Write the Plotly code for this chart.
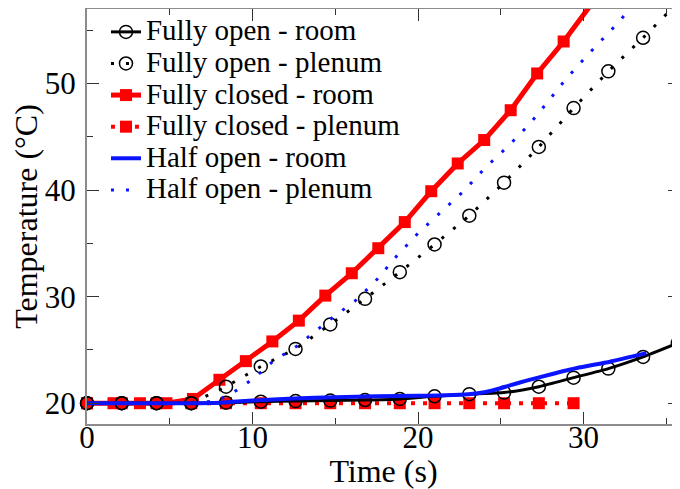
import plotly.graph_objects as go

# ---- data ----
t_open = [0, 2.1, 4.2, 6.3, 8.4, 10.5, 12.6, 14.7, 16.8, 18.9, 21.0, 23.1,
          25.2, 27.3, 29.4, 31.5, 33.6, 35.7]
open_room = [20, 20, 20, 20, 20.05, 20.15, 20.2, 20.25, 20.3, 20.4, 20.65, 20.85,
             21.0, 21.55, 22.4, 23.25, 24.35, 25.65]
t_open_plenum = [0, 2.1, 4.2, 6.3, 8.4, 10.5, 12.6, 14.7, 16.8, 18.9, 21.0, 23.1,
                 25.2, 27.3, 29.4, 31.5, 33.6, 35.7]
open_plenum = [20, 20, 20, 20, 21.55, 23.45, 25.1, 27.4, 29.8, 32.3, 34.9, 37.6,
               40.7, 44.05, 47.7, 51.15, 54.3, 57.6]

t_closed_room = [0, 1.6, 3.2, 4.8, 6.4, 8.0, 9.6, 11.2, 12.8, 14.4, 16.0, 17.6,
                 19.2, 20.8, 22.4, 24.0, 25.6, 27.2, 28.8, 30.4]
closed_room = [20, 20, 20, 20, 20.4, 22.2, 23.95, 25.8, 27.75, 30.1, 32.2, 34.55,
               37.0, 39.9, 42.5, 44.7, 47.5, 50.95, 53.95, 57.3]
t_closed_plenum = [0, 2.1, 4.2, 6.3, 8.4, 10.5, 12.6, 14.7, 16.8, 18.9, 21.0,
                   23.1, 25.2, 27.3, 29.4]
closed_plenum = [20, 20, 20, 20, 20, 20, 20, 20, 20, 20, 20, 20, 20, 20, 20]

t_half_room = [0, 6.0, 8.0, 10.0, 12.5, 15.0, 17.5, 20.0, 22.5, 23.5, 24.5, 25.5,
               26.5, 28.0, 29.6, 31.6, 33.8]
half_room = [20, 20, 20.05, 20.25, 20.45, 20.55, 20.65, 20.7, 20.8, 20.92, 21.2,
             21.65, 22.1, 22.7, 23.3, 23.9, 24.7]
t_half_plenum = [0, 6.3, 7.75, 8.45, 9.14, 9.86, 10.57, 11.25, 12.68, 14.8, 16.2,
                 17.4, 18.7, 20.0, 22.75, 24.06, 25.4, 26.74, 27.8, 28.9, 30.2,
                 31.57, 32.2, 32.9]
half_plenum = [20, 20, 20.2, 20.7, 21.3, 22.1, 23.0, 23.95, 25.35, 28.0, 29.6,
               31.4, 33.8, 35.95, 39.9, 42.1, 44.05, 46.2, 48.2, 50.35, 52.6,
               54.9, 55.9, 57.2]

names = ["Fully open - room", "Fully open - plenum", "Fully closed - room",
         "Fully closed - plenum", "Half open - room", "Half open - plenum"]

x_ticks = [0, 10, 20, 30]
y_ticks = [20, 30, 40, 50]

FONT = "Liberation Serif"
RED = "#ff0000"
BLUE = "#0a14ff"


def lab(s):
    return "<span style='font-size:29px'>%s</span>" % s


fig = go.Figure()

fig.add_trace(go.Scatter(
    x=t_closed_plenum, y=closed_plenum, name=lab(names[3]), legendrank=4,
    mode="lines+markers", cliponaxis=False,
    line=dict(color=RED, width=4, dash="4px,8px"),
    marker=dict(symbol="square", size=12, color=RED)))
fig.add_trace(go.Scatter(
    x=t_closed_room, y=closed_room, name=lab(names[2]), legendrank=3,
    mode="lines+markers", cliponaxis=False,
    line=dict(color=RED, width=5),
    marker=dict(symbol="square", size=12, color=RED)))
fig.add_trace(go.Scatter(
    x=t_open_plenum, y=open_plenum, name=lab(names[1]), legendrank=2,
    mode="lines+markers", cliponaxis=False,
    line=dict(color="black", width=3, dash="3px,12px"),
    marker=dict(symbol="circle-open", size=13, color="black",
                line=dict(width=1.5, color="black"))))
fig.add_trace(go.Scatter(
    x=t_open, y=open_room, name=lab(names[0]), legendrank=1,
    mode="lines+markers", cliponaxis=False,
    line=dict(color="black", width=3, shape="spline", smoothing=0.5),
    marker=dict(symbol="circle-open", size=13, color="black",
                line=dict(width=1.5, color="black"))))
fig.add_trace(go.Scatter(
    x=t_half_room, y=half_room, name=lab(names[4]), legendrank=5,
    mode="lines", line=dict(color=BLUE, width=4, shape="spline", smoothing=0.5)))
fig.add_trace(go.Scatter(
    x=t_half_plenum, y=half_plenum, name=lab(names[5]), legendrank=6,
    mode="lines", line=dict(color=BLUE, width=3, dash="3px,12px")))

axis_common = dict(
    showgrid=False, zeroline=False, showline=True, linecolor="#8c8c8c",
    linewidth=2, mirror="ticks", ticks="inside", ticklen=12, tickwidth=1.2,
    tickcolor="#333333", tickfont=dict(family=FONT, size=31, color="black"),
    automargin=False,
)

# the page body adds an 8 px offset; the figure is sized to fit the window
fig.update_layout(
    width=672, height=481,
    margin=dict(l=79, r=0, t=1, b=65),
    paper_bgcolor="white", plot_bgcolor="white",
    font=dict(family=FONT, color="black"),
    showlegend=True,
    legend=dict(x=0.032, y=0.995, xanchor="left", yanchor="top",
                bgcolor="rgba(0,0,0,0)", borderwidth=0,
                font=dict(family=FONT, size=22, color="black"),
                itemwidth=30),
    xaxis=dict(range=[0, 35.83], tickvals=x_ticks, ticklabelstandoff=-15,
               minor=dict(ticks="inside", ticklen=6, dtick=5, tickwidth=1.2,
                          tickcolor="#333333"),
               title=dict(text="Time (s)", font=dict(family=FONT, size=32),
                          standoff=0),
               **axis_common),
    yaxis=dict(range=[18.05, 57.0], tickvals=y_ticks, ticklabelstandoff=3,
               minor=dict(ticks="inside", ticklen=6, dtick=5, tickwidth=1.2,
                          tickcolor="#333333"),
               title=dict(text="Temperature (°C)", font=dict(family=FONT, size=32),
                          standoff=5),
               **axis_common),
)

fig.write_html("out.html")
